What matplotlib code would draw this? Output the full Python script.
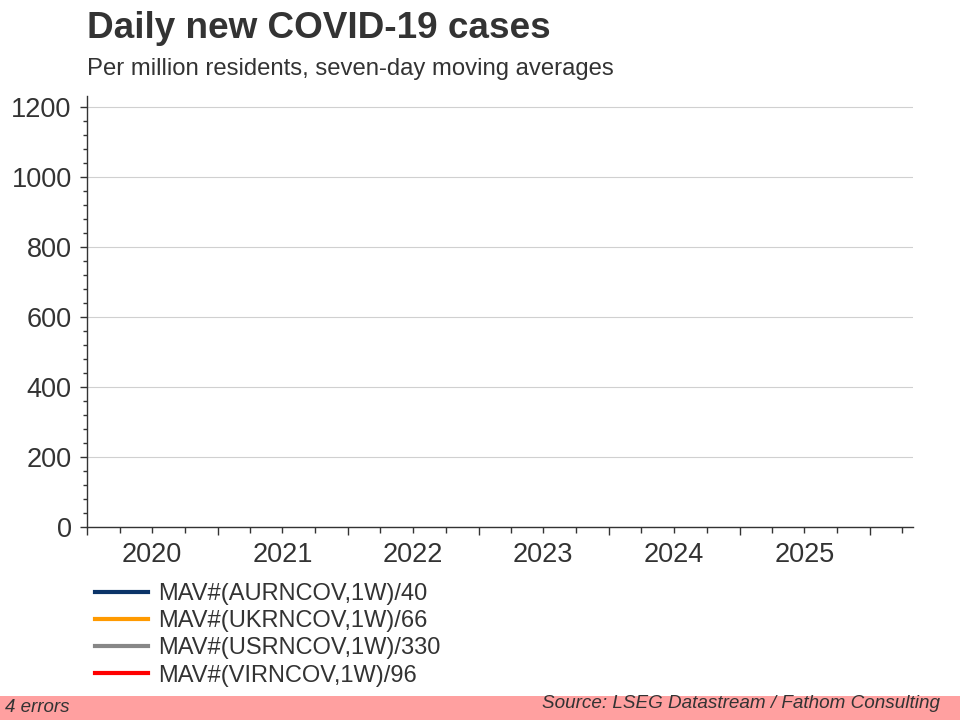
import datetime as dt
import matplotlib
matplotlib.use('Agg')
import matplotlib.pyplot as plt
import matplotlib.dates as mdates
from matplotlib.ticker import MultipleLocator, FuncFormatter
from matplotlib.patches import Rectangle

plt.rcParams['font.family'] = ['Liberation Sans', 'DejaVu Sans']

# 图例名称 (数据序列均为空, 原图没有数据)
series_names = ['MAV#(AURNCOV,1W)/40', 'MAV#(UKRNCOV,1W)/66',
                'MAV#(USRNCOV,1W)/330', 'MAV#(VIRNCOV,1W)/96']
series_colors = ['#0b3468', '#ff9a00', '#878787', '#ff0000']
dates = []
au_vals = []
uk_vals = []
us_vals = []
vi_vals = []
values = [au_vals, uk_vals, us_vals, vi_vals]

x_start = dt.date(2020, 1, 1)
x_end = dt.date(2026, 5, 1)
y_max = 1230

txt = '#333333'

fig = plt.figure(figsize=(9.6, 7.2), dpi=100)
ax = fig.add_axes([87/960, 1-527/720, (913-87)/960, (527-96)/720])

for name, col, v in zip(series_names, series_colors, values):
    ax.plot(dates, v, color=col, lw=3, label=name)

ax.set_xlim(x_start, x_end)
ax.set_ylim(0, y_max)

# y轴
ax.yaxis.set_major_locator(MultipleLocator(200))
ax.yaxis.set_minor_locator(MultipleLocator(40))
ax.grid(axis='y', color='#d0d0d0', lw=0.8)
ax.tick_params(axis='y', which='major', length=5, width=1, pad=6,
               labelsize=19.5, labelcolor=txt, color='#333333')
ax.tick_params(axis='y', which='minor', length=3, width=1, color='#333333')

# x轴: 年份刻度 + 季度小刻度, 年份标签放在7月
ax.xaxis.set_major_locator(mdates.YearLocator())
ax.xaxis.set_major_formatter(FuncFormatter(lambda v, p: ''))
ax.xaxis.set_minor_locator(mdates.MonthLocator(bymonth=[4, 7, 10]))


def year_label(v, p):
    d = mdates.num2date(v)
    return str(d.year) if d.month == 7 else ''


ax.xaxis.set_minor_formatter(FuncFormatter(year_label))
ax.tick_params(axis='x', which='major', length=6, width=1, color='#333333')
ax.tick_params(axis='x', which='minor', length=4, width=1, pad=7,
               labelsize=19.5, labelcolor=txt, color='#333333')

for s in ['top', 'right']:
    ax.spines[s].set_visible(False)
for s in ['left', 'bottom']:
    ax.spines[s].set_color('#333333')
    ax.spines[s].set_linewidth(1)

# 标题
fig.text(87/960, 1-28/720, 'Daily new COVID-19 cases', fontsize=26.6,
         fontweight='bold', color=txt, va='center', ha='left')
fig.text(87/960, 1-69/720, 'Per million residents, seven-day moving averages',
         fontsize=17.2, color=txt, va='center', ha='left')

# 图例
ax.legend(loc='upper left', bbox_to_anchor=(95/960, 1-583/720),
          bbox_transform=fig.transFigure, frameon=False, fontsize=17,
          handlelength=2.25, handletextpad=0.42, labelspacing=0.22,
          borderaxespad=0, borderpad=0, labelcolor=txt)

# 底部粉色条
fig.patches.append(Rectangle((0, 0), 1, 24/720, transform=fig.transFigure,
                             facecolor='#ffa0a0', edgecolor='none'))
fig.text(5/960, 13/720, '4 errors', fontsize=13.5, style='italic',
         color=txt, va='center', ha='left')
fig.text(940/960, 16/720, 'Source: LSEG Datastream / Fathom Consulting',
         fontsize=13.6, style='italic', color=txt, va='center', ha='right')

fig.savefig('out.png', dpi=100)
